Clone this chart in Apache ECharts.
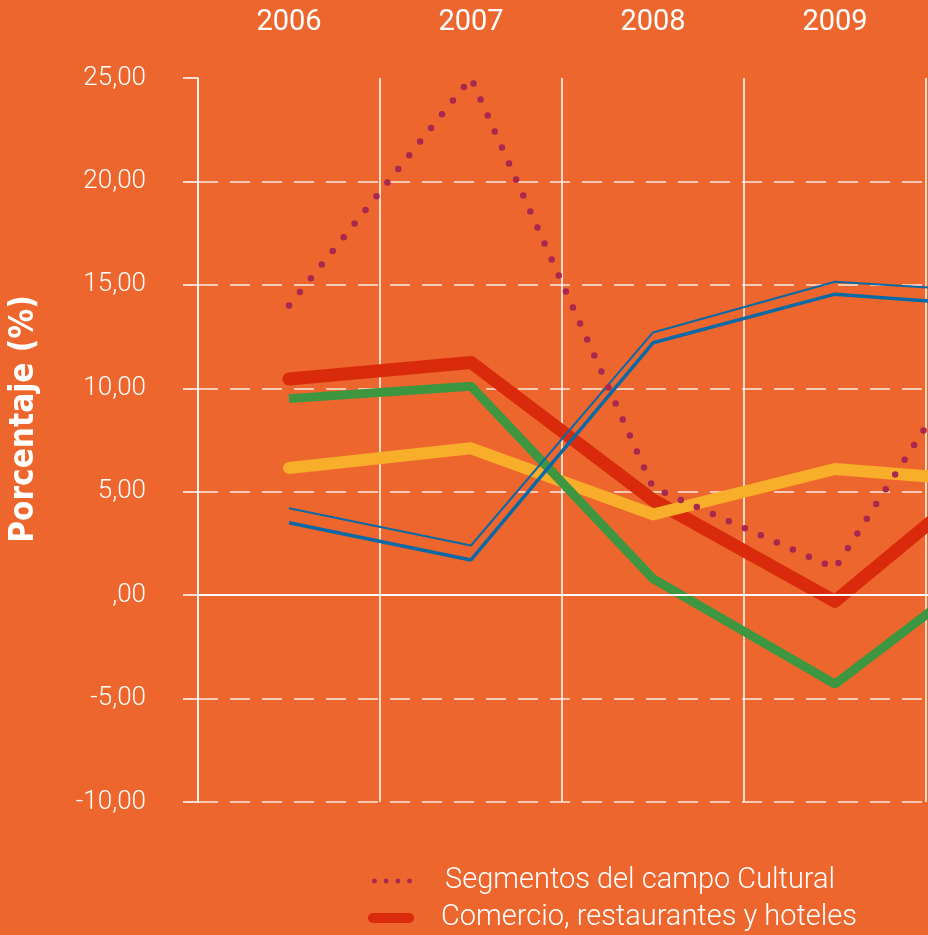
<!DOCTYPE html>
<html>
<head>
<meta charset="utf-8">
<title>Porcentaje</title>
<script src="https://cdn.jsdelivr.net/npm/echarts/dist/echarts.min.js"></script>
<style>
    html, body { margin: 0; padding: 0; background: #EC662D; }
    #chart { width: 928px; height: 935px; }
</style>
</head>
<body>
<div id="chart"></div>
<script>
// datos (2010 solo se ve el comienzo del tramo)
var years = ['2006', '2007', '2008', '2009', '2010'];
var cultural = [14.0, 25.0, 5.2, 1.3, 15.0];
var comercio = [10.45, 11.25, 4.6, -0.3, 7.0];
var verde = [9.5, 10.1, 0.8, -4.3, 2.4];
var amarillo = [6.15, 7.1, 3.9, 6.1, 5.4];
var azulFino = [4.2, 2.4, 12.7, 15.15, 14.6];
var azulGrueso = [3.5, 1.7, 12.2, 14.55, 13.9];
var yMin = -10, yMax = 25, yStep = 5;

var legendNames = ['Segmentos del campo Cultural', 'Comercio, restaurantes y hoteles'];

window.addEventListener("load", function () {
    var myChart = echarts.init(document.getElementById('chart'));

    // 25,00 / ,00 / -5,00
    function fmt(v) {
        if (v === 0) return ',00';
        return v.toFixed(2).replace('.', ',');
    }

    var thin = 'Roboto, "DejaVu Sans Condensed", sans-serif';
    // cuatro puntos para la leyenda punteada
    var dots = 'path://M0,2.5a2.5,2.5 0 1,0 5,0a2.5,2.5 0 1,0 -5,0' +
        'M12,2.5a2.5,2.5 0 1,0 5,0a2.5,2.5 0 1,0 -5,0' +
        'M24,2.5a2.5,2.5 0 1,0 5,0a2.5,2.5 0 1,0 -5,0' +
        'M36,2.5a2.5,2.5 0 1,0 5,0a2.5,2.5 0 1,0 -5,0';
    // barra con extremos redondos
    var pill = 'path://M5,0H41A5,5 0 0,1 41,10H5A5,5 0 0,1 5,0Z';

    var legendText = {
        color: '#fff',
        fontSize: 29,
        fontWeight: 300,
        lineHeight: 30,
        fontFamily: thin
    };

    var option = {
        backgroundColor: '#EC662D',
        animation: false,
        grid: {
            left: 198,
            top: 78,
            width: 910,
            height: 724,
            outerBoundsMode: 'none'
        },
        xAxis: {
            type: 'category',
            position: 'top',
            data: years,
            boundaryGap: true,
            axisLine: { show: false },
            axisTick: { show: false },
            axisLabel: {
                interval: 0,
                margin: 41,
                color: '#fff',
                fontSize: 29,
                fontFamily: thin
            },
            splitLine: {
                show: true,
                interval: 0,
                lineStyle: { color: '#fff', width: 1.5 }
            }
        },
        yAxis: {
            type: 'value',
            min: yMin,
            max: yMax,
            interval: yStep,
            axisLine: { show: true, lineStyle: { color: '#fff', width: 1.5 } },
            axisTick: { show: true, length: 15, lineStyle: { color: '#fff', width: 1.5 } },
            axisLabel: {
                margin: 52,
                color: '#fff',
                fontSize: 26,
                fontWeight: 300,
                fontFamily: thin,
                formatter: fmt
            },
            splitLine: {
                show: true,
                showMaxLine: false,
                lineStyle: { color: 'rgba(255,255,255,0.85)', width: 1.5, type: [20, 12] }
            }
        },
        legend: [
            {
                left: 372,
                top: 866,
                padding: 0,
                itemWidth: 40,
                itemHeight: 5,
                data: [{ name: legendNames[0], icon: dots }],
                textStyle: Object.assign({ padding: [0, 0, 0, 28] }, legendText)
            },
            {
                left: 368,
                top: 903,
                padding: 0,
                itemWidth: 46,
                itemHeight: 10,
                data: [{ name: legendNames[1], icon: pill }],
                textStyle: Object.assign({ padding: [0, 0, 0, 22] }, legendText)
            }
        ],
        graphic: [{
            type: 'text',
            x: 24,
            y: 419,
            rotation: Math.PI / 2,
            style: {
                text: 'Porcentaje (%)',
                fill: '#fff',
                fontSize: 33,
                fontWeight: 'bold',
                fontFamily: '"DejaVu Sans Condensed", sans-serif',
                align: 'center',
                verticalAlign: 'middle'
            }
        }],
        series: [
            {
                name: legendNames[1],
                type: 'line',
                data: comercio,
                symbol: 'none',
                z: 2,
                lineStyle: { color: '#D92B0B', width: 13, cap: 'round', join: 'round' },
                itemStyle: { color: '#D92B0B' },
                // linea del cero
                markLine: {
                    silent: true,
                    symbol: 'none',
                    label: { show: false },
                    lineStyle: { color: '#fff', width: 2, type: 'solid' },
                    data: [{ yAxis: 0 }]
                }
            },
            {
                name: 'Amarillo',
                type: 'line',
                data: amarillo,
                symbol: 'none',
                z: 3,
                lineStyle: { color: '#F8AE2A', width: 12, cap: 'round', join: 'round' }
            },
            {
                name: 'Verde',
                type: 'line',
                data: verde,
                symbol: 'none',
                z: 4,
                lineStyle: { color: '#3E9641', width: 9, cap: 'butt' }
            },
            {
                name: 'Azul fino',
                type: 'line',
                data: azulFino,
                symbol: 'none',
                z: 5,
                lineStyle: { color: '#0B69A6', width: 2 }
            },
            {
                name: 'Azul',
                type: 'line',
                data: azulGrueso,
                symbol: 'none',
                z: 5,
                lineStyle: { color: '#0B69A6', width: 3.5 }
            },
            {
                name: legendNames[0],
                type: 'line',
                data: cultural,
                symbol: 'none',
                z: 6,
                lineStyle: { color: '#A8284F', width: 6.5, type: [0, 17.5], cap: 'round' },
                itemStyle: { color: '#A8284F' }
            }
        ]
    };

    myChart.setOption(option);
});
</script>
</body>
</html>
